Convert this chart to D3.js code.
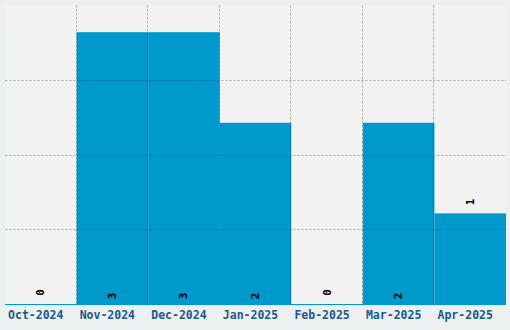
<!DOCTYPE html>
<meta charset="utf-8">
<style>
  body { margin: 0; background: #edf0f1; }
  svg { display: block; }
</style>
<body>
<script src="https://cdn.jsdelivr.net/npm/d3@7"></script>
<script>

// Chart data
const months = ["Oct-2024", "Nov-2024", "Dec-2024", "Jan-2025", "Feb-2025", "Mar-2025", "Apr-2025"];
const counts = [0, 3, 3, 2, 0, 2, 1];
const yMax = 3.3;
const gridCount = 4;

// Size of the picture
const W = 510, H = 330;
const margin = {top: 5, right: 4, bottom: 26, left: 5},
    width = W - margin.left - margin.right,
    height = H - margin.top - margin.bottom;

const barColor = "#0099cc";

const x = d3.scaleBand()
    .domain(months)
    .range([0, width])
    .padding(0);

const y = d3.scaleLinear()
    .domain([0, yMax])
    .range([height, 0]);

const svg = d3.select("body").append("svg")
    .attr("width", W)
    .attr("height", H);

const g = svg.append("g")
    .attr("transform", "translate(" + margin.left + "," + margin.top + ")");

// plot background
g.append("rect")
    .attr("width", width)
    .attr("height", height)
    .attr("fill", "#f2f2f2");

const data = months.map((m, i) => ({month: m, value: counts[i]}));

// bars
g.selectAll(".bar").data(data).enter()
  .append("rect")
    .attr("class", "bar")
    .attr("x", d => x(d.month))
    .attr("width", x.bandwidth())
    .attr("y", d => y(d.value))
    .attr("height", d => height - y(d.value))
    .attr("fill", barColor);

// baseline
g.append("line")
    .attr("x1", 0).attr("x2", width)
    .attr("y1", height + 0.5).attr("y2", height + 0.5)
    .attr("stroke", barColor)
    .attr("stroke-width", 1);

// dashed grid drawn on top of the bars
const gridY = d3.range(1, gridCount).map(i => yMax * i / gridCount);
g.selectAll(".hgrid").data(gridY).enter()
  .append("line")
    .attr("x1", 0).attr("x2", width)
    .attr("y1", d => Math.round(y(d)) + 0.5)
    .attr("y2", d => Math.round(y(d)) + 0.5)
    .attr("stroke", "#000")
    .attr("stroke-opacity", 0.25)
    .attr("stroke-dasharray", "2.5,1.5");

g.selectAll(".vgrid").data(months.slice(1)).enter()
  .append("line")
    .attr("x1", d => Math.round(x(d)) - 0.5)
    .attr("x2", d => Math.round(x(d)) - 0.5)
    .attr("y1", 0).attr("y2", height)
    .attr("stroke", "#000")
    .attr("stroke-opacity", 0.25)
    .attr("stroke-dasharray", "2.5,1.5");

// value labels, rotated
g.selectAll(".val").data(data).enter()
  .append("text")
    .attr("transform", d => {
        const cx = x(d.month) + x.bandwidth() / 2;
        const cy = d.value > 1 ? height - 8 : y(d.value) - 11.5;
        return "translate(" + cx + "," + cy + ") rotate(-90)";
    })
    .attr("text-anchor", "middle")
    .attr("dominant-baseline", "central")
    .style("font-family", "'DejaVu Sans Mono', monospace")
    .style("font-weight", "bold")
    .style("font-size", "11px")
    .attr("fill", "#000")
    .text(d => d.value);

// month labels
g.selectAll(".xlab").data(months).enter()
  .append("text")
    .attr("x", d => x(d) + x.bandwidth() / 2 - 5)
    .attr("y", height + 10.5)
    .attr("text-anchor", "middle")
    .attr("dominant-baseline", "central")
    .style("font-family", "'DejaVu Sans Mono', monospace")
    .style("font-weight", "bold")
    .style("font-size", "11.5px")
    .attr("fill", "#1a5a8c")
    .text(d => d);

</script>
</body>
